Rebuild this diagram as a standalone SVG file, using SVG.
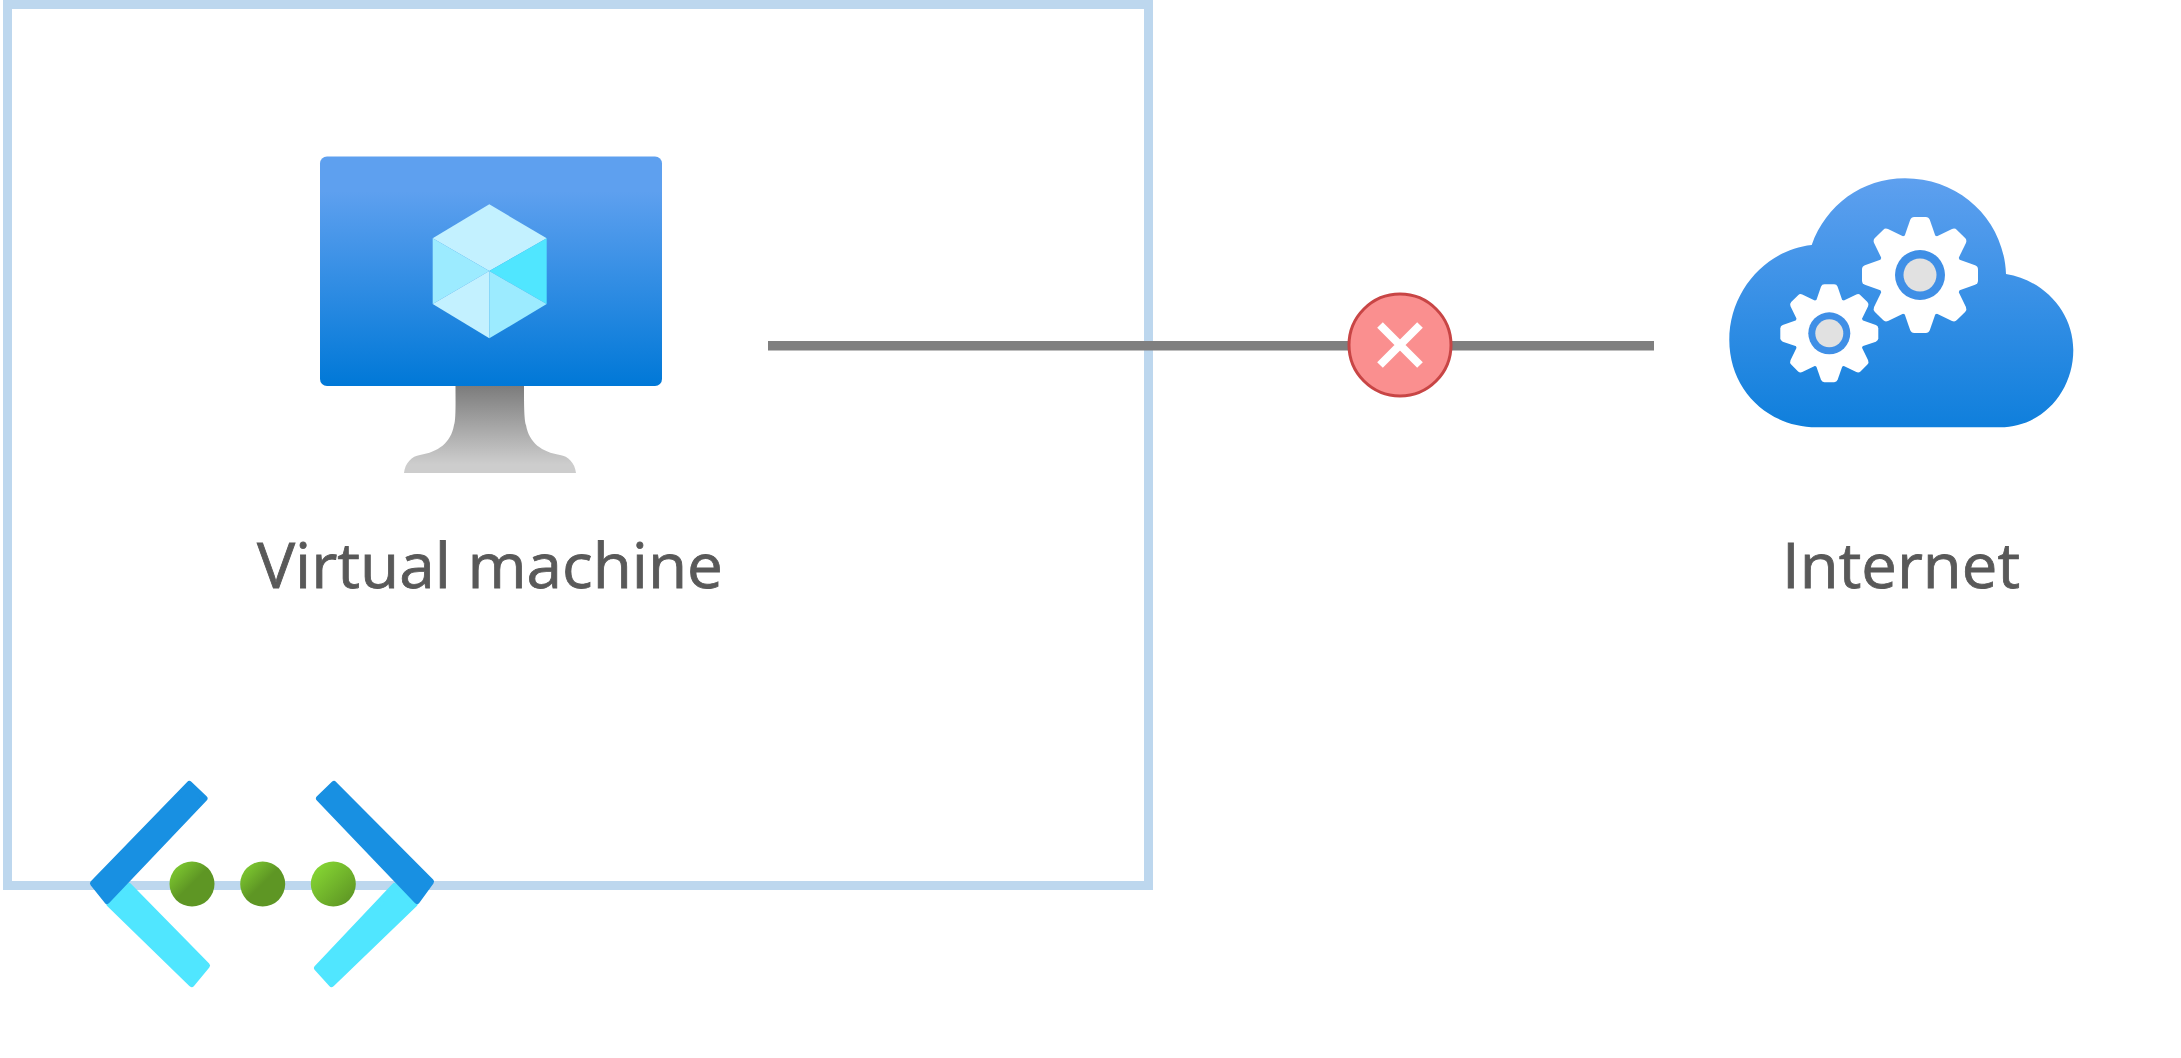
<svg xmlns="http://www.w3.org/2000/svg" xmlns:xlink="http://www.w3.org/1999/xlink" width="2181" height="1058" viewBox="0 0 2181 1058">
<style>
.label{font-family:"Open Sans","Noto Sans","Liberation Sans",sans-serif;font-size:62px;fill:#595959;stroke:#595959;stroke-width:.8}
.dark{fill:#1890e2;stroke:#1890e2;stroke-width:6;stroke-linejoin:round}
.light{fill:#50e6ff;stroke:#50e6ff;stroke-width:6;stroke-linejoin:round}
.gear{fill:#fff}
</style>
<defs>
<linearGradient id="blue" x1="0" y1="0" x2="0" y2="1"><stop offset="0.15" stop-color="#5ea0ef"/><stop offset="1" stop-color="#0078d7"/></linearGradient>
<linearGradient id="cloudFill" x1="0" y1="0" x2="0" y2="1"><stop offset="0" stop-color="#5ea0ef"/><stop offset="1" stop-color="#0f7fdc"/></linearGradient>
<linearGradient id="standFill" x1="0" y1="0" x2="0" y2="1"><stop offset="0" stop-color="#7c7c7c"/><stop offset="0.9" stop-color="#cdcdcd"/></linearGradient>
<linearGradient id="dotA" x1="0" y1="0" x2="1" y2="1"><stop offset="0" stop-color="#86d633"/><stop offset="0.5" stop-color="#5e9624"/></linearGradient>
<linearGradient id="dotB" x1="0" y1="0" x2="1" y2="1"><stop offset="0.1" stop-color="#86d633"/><stop offset="0.9" stop-color="#5e9624"/></linearGradient>
<g id="gearShape">
<circle class="gear" r="73"/>
<path id="tooth" class="gear" d="M-27-66L-17-95Q-15-100-10-100L10-100Q15-100 17-95L27-66Z"/>
<use xlink:href="#tooth" transform="rotate(45)"/><use xlink:href="#tooth" transform="rotate(90)"/><use xlink:href="#tooth" transform="rotate(135)"/><use xlink:href="#tooth" transform="rotate(180)"/><use xlink:href="#tooth" transform="rotate(225)"/><use xlink:href="#tooth" transform="rotate(270)"/><use xlink:href="#tooth" transform="rotate(315)"/>
</g>
</defs>
<rect width="2181" height="1058" fill="#fff"/>
<g id="subnet-frame"><rect x="7.500" y="4.500" width="1141" height="881" fill="none" stroke="#bdd7ee" stroke-width="9"/></g>
<g id="connectors"><line x1="768" y1="345.800" x2="1654" y2="345.800" stroke="#7f7f7f" stroke-width="9.500"/></g>
<g id="virtual-machine">
<path d="M455.500 386L524 386C524 400 524 420 526 425C529 443 542 452 560 455C568 456 575 463 576 473L404 473C405 463 412 456 420 455C438 452 451 443 454 425C456 420 455.500 400 455.500 386Z" fill="url(#standFill)"/>
<rect x="320" y="156.500" width="342" height="229.500" rx="7" fill="url(#blue)"/>
<path d="M489.300 204.300L546.700 238.300L489.300 271L432.700 238.300Z" fill="#c3f1ff"/>
<path d="M432.700 238.300L489.300 271L432.700 304Z" fill="#9cebff"/>
<path d="M546.700 238.300L489.300 271L546.700 304Z" fill="#50e6ff"/>
<path d="M432.700 304L489.300 271V338.300Z" fill="#c3f1ff"/>
<path d="M546.700 304L489.300 271V338.300Z" fill="#9cebff"/>
<text class="label" x="490" y="587.500" text-anchor="middle" textLength="466" lengthAdjust="spacingAndGlyphs">Virtual machine</text>
</g>
<g id="internet">
<path d="M1811.700 245C1826 205 1862 178.300 1905 178.300C1960 178.300 2004 220 2006 274C2044 280 2073.300 312 2073.300 350C2073.300 392 2042 427.300 2000 427.300L1816.700 427.300C1768 427.300 1729.300 390 1729.300 340C1729.300 292 1765 250 1811.700 245Z" fill="url(#cloudFill)"/>
<use xlink:href="#gearShape" transform="translate(1920 275) scale(.58)"/>
<circle cx="1920" cy="275" r="25" fill="#3f8fe6"/><circle cx="1920" cy="275" r="16.500" fill="#e1e1e1"/>
<use xlink:href="#gearShape" transform="translate(1829.300 333.300) scale(.49)"/>
<circle cx="1829.300" cy="333.300" r="21" fill="#3f8fe6"/><circle cx="1829.300" cy="333.300" r="14" fill="#e1e1e1"/>
<text class="label" x="1901" y="587.500" text-anchor="middle" textLength="238" lengthAdjust="spacingAndGlyphs">Internet</text>
</g>
<g id="blocked-badge">
<circle cx="1400" cy="345" r="51" fill="#fa8f8f" stroke="#c84545" stroke-width="3"/>
<path d="M1380 325L1420 365M1420 325L1380 365" stroke="#fff" stroke-width="8" fill="none"/>
</g>
<g id="virtual-network">
<path class="light" d="M129 886L207 965.500L191.700 984L109.500 904Z"/>
<path class="light" d="M394.500 886L317 968L331.500 984L414.500 904Z"/>
<path class="dark" d="M93 883.300L189.300 784L204.500 798.500L107 901Z"/>
<path class="dark" d="M431 881.700L334 784L319 798.500L417 901Z"/>
<circle cx="192" cy="884" r="22.500" fill="url(#dotA)"/>
<circle cx="262.700" cy="884" r="22.500" fill="url(#dotA)"/>
<circle cx="333.300" cy="884" r="22.500" fill="url(#dotB)"/>
</g>
</svg>
